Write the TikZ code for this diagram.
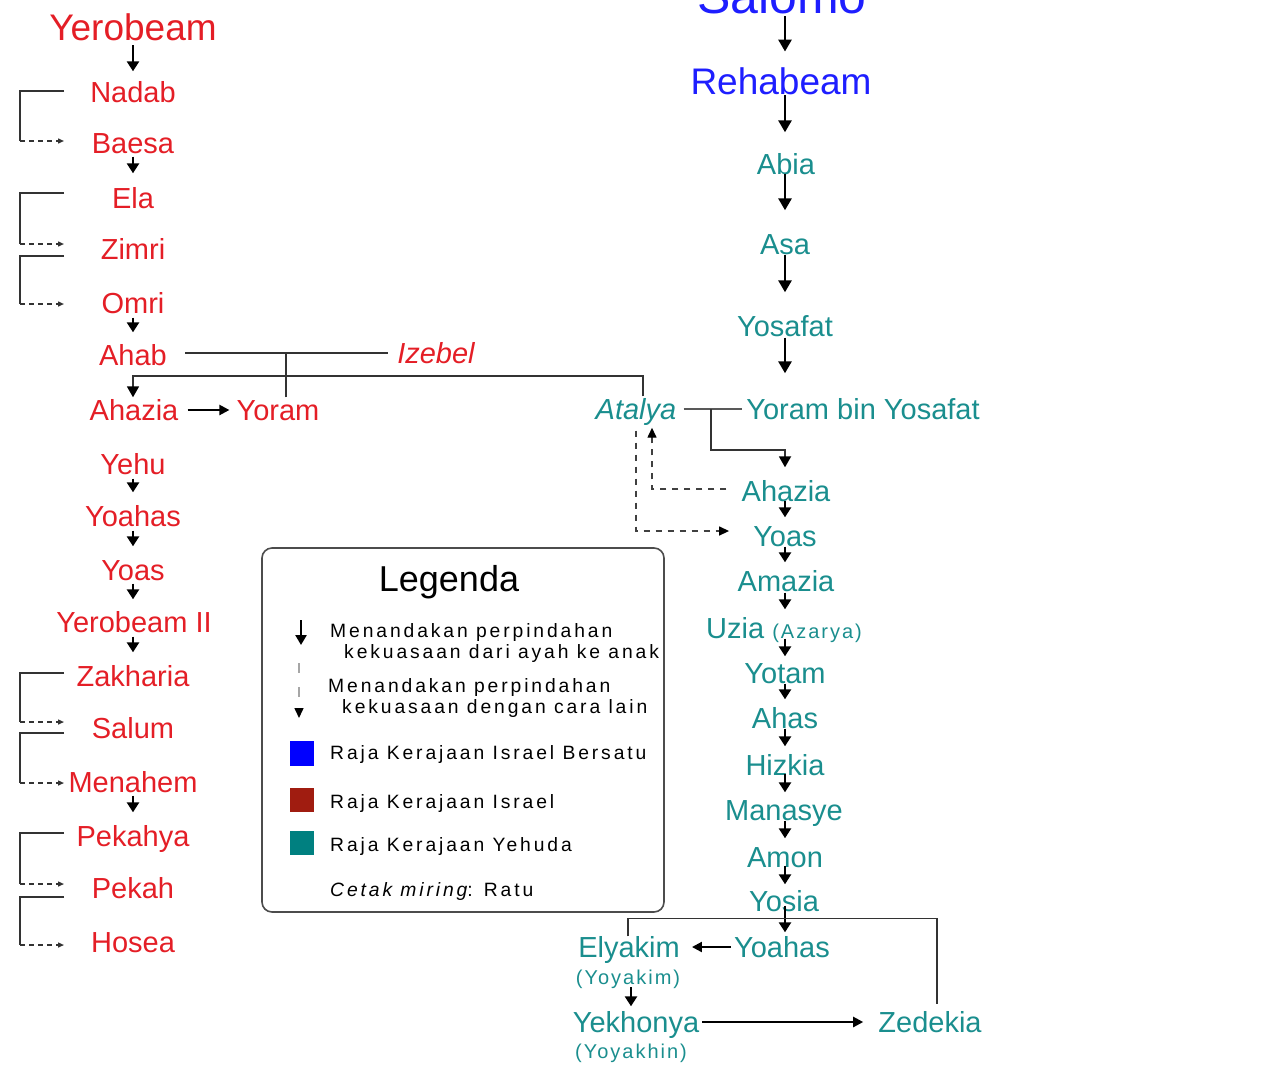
\documentclass[tikz,border=0pt]{standalone}
\usepackage{fontspec}
\setmainfont{Liberation Sans}
\newfontfamily\legfont[LetterSpace=15]{Liberation Sans}
\newfontfamily\smallfont[LetterSpace=10]{Liberation Sans}
\usetikzlibrary{arrows.meta,calc}
\definecolor{isred}{RGB}{228,30,38}
\definecolor{judteal}{RGB}{26,142,142}
\definecolor{unblue}{RGB}{30,30,255}
\definecolor{sqred}{RGB}{160,28,16}
\definecolor{sqteal}{RGB}{0,128,128}
\tikzset{
  nm/.style={inner sep=0pt, text height=21pt, text depth=0pt, font=\fontsize{29}{30}\selectfont},
  isr/.style={nm, text=isred},
  jud/.style={nm, text=judteal},
  unb/.style={nm, text=unblue},
  itl/.style={font=\fontsize{29}{30}\selectfont\itshape},
  smalltxt/.style={font=\smallfont\fontsize{20}{21}\selectfont, text height=14pt},
  bigarr/.style={line width=2.8pt, -{Triangle[length=12pt,width=13pt]}},
  sarr/.style={line width=2.8pt, -{Triangle[length=10pt,width=12pt]}},
  conn/.style={line width=1.8pt, draw=black!80},
  brk/.style={line width=1.4pt, draw=black!80},
  brkd/.style={line width=1.4pt, draw=black!80, dash pattern=on 5pt off 4pt, -{Triangle[length=6pt,width=5pt]}},
  ddash/.style={line width=1.4pt, draw=black!75, dash pattern=on 6pt off 6pt, -{Triangle[length=10pt,width=9pt,color=black]}},
  leg/.style={inner sep=0pt, anchor=west, text height=13.8pt, text depth=0pt, font=\legfont\fontsize{19.3}{20}\selectfont},
}
\begin{document}
\begin{tikzpicture}[x=1pt,y=-1pt]
\useasboundingbox (0,0) rectangle (1281,1066);
\coordinate (lcx) at (133,0);
\coordinate (rcx) at (785,0);
% ---------- Israel (left column)
\node[isr, font=\fontsize{37}{38}\selectfont, text height=26.5pt] (yer) at (133,27) {Yerobeam};
\node[isr] (nadab) at (133,92) {Nadab};
\node[isr] (baesa) at (133,143) {Baesa};
\node[isr] (ela) at (133,198) {Ela};
\node[isr] (zimri) at (133,249) {Zimri};
\node[isr] (omri) at (133,303) {Omri};
\node[isr] (ahab) at (133,355) {Ahab};
\node[isr, itl] (izebel) at (436,353) {Izebel};
\node[isr] (ahaziaI) at (134,410) {Ahazia};
\node[isr] (yoramI) at (278,410) {Yoram};
\node[isr] (yehu) at (133,464) {Yehu};
\node[isr] (yoahasI) at (133,516) {Yoahas};
\node[isr] (yoasI) at (133,570) {Yoas};
\node[isr] (yer2) at (134,622) {Yerobeam II};
\node[isr] (zak) at (133,676) {Zakharia};
\node[isr] (salum) at (133,728) {Salum};
\node[isr] (menahem) at (133,782) {Menahem};
\node[isr] (pekahya) at (133,836) {Pekahya};
\node[isr] (pekah) at (133,888) {Pekah};
\node[isr] (hosea) at (133,942) {Hosea};
% ---------- United / Judah (right column)
\node[unb, font=\fontsize{50}{52}\selectfont, text height=36pt] (salomo) at (782,-5) {Salomo};
\node[unb, font=\fontsize{37}{38}\selectfont, text height=26.5pt] (reh) at (781,81) {Rehabeam};
\node[jud] (abia) at (786,164) {Abia};
\node[jud] (asa) at (785,244) {Asa};
\node[jud] (yosafat) at (785,326) {Yosafat};
\node[jud, itl] (atalya) at (636,409) {Atalya};
\node[jud] (yoramJ) at (863,409) {Yoram bin Yosafat};
\node[jud] (ahaziaJ) at (786,491) {Ahazia};
\node[jud] (yoasJ) at (785,536) {Yoas};
\node[jud] (amazia) at (786,581) {Amazia};
\node[jud] (uzia) at (784,628) {Uzia {\smallfont\fontsize{20}{21}\selectfont(Azarya)}};
\node[jud] (yotam) at (785,673) {Yotam};
\node[jud] (ahas) at (785,718) {Ahas};
\node[jud] (hizkia) at (785,765) {Hizkia};
\node[jud] (manasye) at (784,810) {Manasye};
\node[jud] (amon) at (785,857) {Amon};
\node[jud] (yosia) at (784,901) {Yosia};
\node[jud] (yoahasJ) at (782,947) {Yoahas};
\node[jud] (elyakim) at (629,947) {Elyakim};
\node[jud, smalltxt] (yoyakim) at (628,977) {(Yoyakim)};
\node[jud] (yekhonya) at (636,1022) {Yekhonya};
\node[jud, smalltxt] (yoyakhin) at (631,1051) {(Yoyakhin)};
\node[jud] (zedekia) at (930,1022) {Zedekia};
% ---------- left column arrows
\draw[sarr] ([yshift=-5pt]yer.south -| lcx) -- ([yshift=10pt]nadab.north -| lcx);
\draw[sarr] ([yshift=-3pt]baesa.south -| lcx) -- ([yshift=14pt]ela.north -| lcx);
\draw[sarr] ([yshift=-4pt]omri.south -| lcx) -- ([yshift=12pt]ahab.north -| lcx);
\draw[sarr] ([yshift=-4pt]yehu.south -| lcx) -- ([yshift=13pt]yoahasI.north -| lcx);
\draw[sarr] ([yshift=-4pt]yoahasI.south -| lcx) -- ([yshift=13pt]yoasI.north -| lcx);
\draw[sarr] ([yshift=-3pt]yoasI.south -| lcx) -- ([yshift=12pt]yer2.north -| lcx);
\draw[sarr] ([yshift=-4pt]yer2.south -| lcx) -- ([yshift=13pt]zak.north -| lcx);
\draw[sarr] ([yshift=-3pt]menahem.south -| lcx) -- ([yshift=13pt]pekahya.north -| lcx);
% brackets (other transfer of power)
\coordinate (lx) at (64,0);
\coordinate (bx) at (20,0);
\draw[brk] ([yshift=1pt]nadab.west -| lx) -| ([yshift=2pt]baesa.west -| bx);
\draw[brkd] ([yshift=2pt]baesa.west -| bx) -- ([yshift=2pt]baesa.west -| lx);
\draw[brk] ([yshift=5pt]ela.west -| lx) -| ([yshift=5pt]zimri.west -| bx);
\draw[brkd] ([yshift=5pt]zimri.west -| bx) -- ([yshift=5pt]zimri.west -| lx);
\draw[brk] ([yshift=-7pt]zimri.west -| lx) -| ([yshift=-1pt]omri.west -| bx);
\draw[brkd] ([yshift=-1pt]omri.west -| bx) -- ([yshift=-1pt]omri.west -| lx);
\draw[brk] ([yshift=3pt]zak.west -| lx) -| ([yshift=6pt]salum.west -| bx);
\draw[brkd] ([yshift=6pt]salum.west -| bx) -- ([yshift=6pt]salum.west -| lx);
\draw[brk] ([yshift=-5pt]salum.west -| lx) -| ([yshift=-1pt]menahem.west -| bx);
\draw[brkd] ([yshift=-1pt]menahem.west -| bx) -- ([yshift=-1pt]menahem.west -| lx);
\draw[brk] ([yshift=3pt]pekahya.west -| lx) -| ([yshift=4pt]pekah.west -| bx);
\draw[brkd] ([yshift=4pt]pekah.west -| bx) -- ([yshift=4pt]pekah.west -| lx);
\draw[brk] ([yshift=-9pt]pekah.west -| lx) -| ([yshift=-3pt]hosea.west -| bx);
\draw[brkd] ([yshift=-3pt]hosea.west -| bx) -- ([yshift=-3pt]hosea.west -| lx);
% Ahab family
\draw[conn] ([xshift=18pt]ahab.east |- izebel.west) -- ([xshift=-9pt]izebel.west);
\draw[conn] ([xshift=8pt,yshift=2pt]yoramI.north) -- ([xshift=8pt]yoramI.north |- izebel);
\draw[conn, -{Triangle[length=11pt,width=12pt,color=black]}] ([xshift=7pt,yshift=2pt]atalya.north) |- ([yshift=23pt]ahaziaI.north -| lcx) -- ([yshift=2pt]ahaziaI.north -| lcx);
\draw[line width=2.2pt, -{Triangle[length=10pt,width=10pt]}] ([xshift=9pt]ahaziaI.east) -- ([xshift=-7pt]yoramI.west);
% ---------- right column arrows
\draw[bigarr] ([yshift=-3pt]salomo.south -| rcx) -- ([yshift=16pt]reh.north -| rcx);
\draw[bigarr] ([yshift=-1pt]reh.south -| rcx) -- ([yshift=21pt]abia.north -| rcx);
\draw[bigarr] ([yshift=1pt]abia.south -| rcx) -- ([yshift=23pt]asa.north -| rcx);
\draw[bigarr] ([yshift=0pt]asa.south -| rcx) -- ([yshift=23pt]yosafat.north -| rcx);
\draw[bigarr] ([yshift=-1pt]yosafat.south -| rcx) -- ([yshift=25pt]yoramJ.north -| rcx);
% Atalya & Yoram bin Yosafat
\draw[line width=2.2pt, draw=black!65] ([xshift=7pt]atalya.east) -- ([xshift=-4pt]yoramJ.west);
\draw[conn, -{Triangle[length=11pt,width=12pt,color=black]}] ($(atalya.east)!0.5!(yoramJ.west)$) |- ([yshift=30pt]ahaziaJ.north -| rcx) -- ([yshift=13pt]ahaziaJ.north -| rcx);
\draw[ddash] ([xshift=-15pt,yshift=2pt]ahaziaJ.west) -| ([xshift=16pt,yshift=-8pt]atalya.south);
\draw[ddash] ([yshift=-11pt]atalya.south) |- ([xshift=-24pt,yshift=5pt]yoasJ.west);
% Judah chain
\draw[sarr] ([yshift=1pt]ahaziaJ.south -| rcx) -- ([yshift=8pt]yoasJ.north -| rcx);
\draw[sarr] ([yshift=0pt]yoasJ.south -| rcx) -- ([yshift=8pt]amazia.north -| rcx);
\draw[sarr] ([yshift=-1pt]amazia.south -| rcx) -- ([yshift=8pt]uzia.north -| rcx);
\draw[sarr] ([yshift=0pt]uzia.south -| rcx) -- ([yshift=6pt]yotam.north -| rcx);
\draw[sarr] ([yshift=0pt]yotam.south -| rcx) -- ([yshift=8pt]ahas.north -| rcx);
\draw[sarr] ([yshift=0pt]ahas.south -| rcx) -- ([yshift=8pt]hizkia.north -| rcx);
\draw[sarr] ([yshift=2pt]hizkia.south -| rcx) -- ([yshift=7pt]manasye.north -| rcx);
\draw[sarr] ([yshift=0pt]manasye.south -| rcx) -- ([yshift=8pt]amon.north -| rcx);
\draw[sarr] ([yshift=2pt]amon.south -| rcx) -- ([yshift=6pt]yosia.north -| rcx);
% Yosia's sons
\draw[sarr] ([yshift=6pt]yosia.south -| rcx) -- ([yshift=4pt]yoahasJ.north -| rcx);
\draw[line width=1.6pt, draw=black!80] ([xshift=-1pt]elyakim.north) -- ++(0,-18) -| ([xshift=7pt,yshift=7pt]zedekia.north);
\draw[line width=2.2pt, -{Triangle[length=10pt,width=10pt]}] ([xshift=-3pt]yoahasJ.west) -- ([xshift=12pt]elyakim.east);
\draw[sarr] ([xshift=3pt,yshift=-3pt]yoyakim.south) -- ([xshift=-5pt,yshift=5pt]yekhonya.north);
\draw[line width=2.2pt, -{Triangle[length=10pt,width=10pt]}] ([xshift=3pt]yekhonya.east) -- ([xshift=-15pt]zedekia.west);
% ---------- legend
\draw[line width=1.6pt, draw=black!70, rounded corners=10pt] (262,548) rectangle (664,912);
\node[inner sep=0pt, text height=26pt, text depth=0pt, font=\fontsize{36}{38}\selectfont] (legtitle) at (449,578) {Legenda};
\draw[line width=2.6pt, -{Triangle[length=10pt,width=11pt]}] (301,620) -- (301,645);
\draw[line width=1.5pt, draw=black!35, dash pattern=on 10pt off 14pt, -{Triangle[length=10pt,width=9pt,color=black]}] (299,663) -- (299,718);
\fill[blue] (290,741) rectangle (314,766);
\fill[sqred] (290,788) rectangle (314,812);
\fill[sqteal] (290,831) rectangle (314,855);
\node[leg] (l1) at (330,631) {Menandakan perpindahan};
\node[leg] (l2) at (344,652) {kekuasaan dari ayah ke anak};
\node[leg] (l3) at (328,686) {Menandakan perpindahan};
\node[leg] (l4) at (342,707) {kekuasaan dengan cara lain};
\node[leg] (l5) at (330,753) {Raja Kerajaan Israel Bersatu};
\node[leg] (l6) at (330,802) {Raja Kerajaan Israel};
\node[leg] (l7) at (330,845) {Raja Kerajaan Yehuda};
\node[leg] (l8) at (330,890) {{\itshape Cetak miring}: Ratu};
\end{tikzpicture}
\end{document}
